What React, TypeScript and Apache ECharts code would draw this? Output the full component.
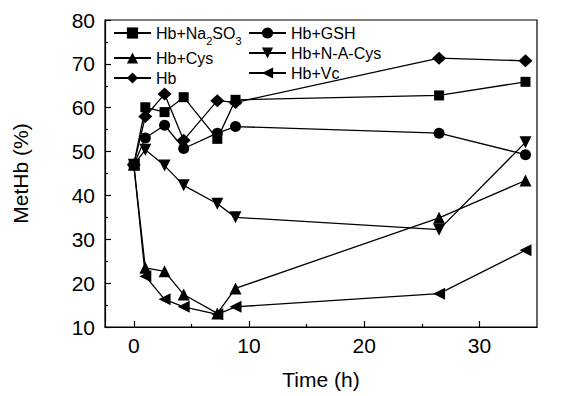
import React, { useEffect, useRef } from "react";
import * as echarts from "echarts";

// Sampling times (h)
const times = [0, 1, 2.67, 4.33, 7.25, 8.83, 26.5, 34];

// MetHb (%) for each treatment
const na2so3 = [47, 60.1, 59.0, 62.4, 52.9, 61.8, 62.8, 65.9];
const gsh = [47, 53.1, 56.0, 50.7, 54.2, 55.7, 54.2, 49.3];
const cys = [47, 23.5, 22.7, 17.4, 13.1, 18.8, 34.9, 43.4];
const nAcCys = [47, 50.4, 46.8, 42.3, 38.1, 35.0, 32.2, 52.1];
const hbOnly = [47, 58.0, 63.1, 52.6, 61.6, 61.2, 71.3, 70.7];
const vc = [47, 21.6, 16.3, 14.6, 12.9, 14.6, 17.6, 27.5];

const xMajorTicks = [0, 10, 20, 30];
const xMinorTicks = [5, 15, 25];

const FONT = "'Liberation Sans', Arial, sans-serif";

// Triangle markers pointing down and left (path symbols so the legend shows them too)
const TRI_DOWN = "path://M0,0L2,0L1,2Z";
const TRI_LEFT = "path://M2,0L2,2L0,1Z";

export default function App() {
  const ref = useRef<HTMLDivElement>(null);

  useEffect(() => {
    if (!ref.current) return;
    const chart = echarts.init(ref.current, null, { renderer: "svg" });

    const pair = (ys: number[]) => times.map((t, i) => [t, ys[i]]);

    const mk = (name: string, ys: number[], symbol: string, size: number | number[]) => ({
      name,
      type: "line",
      data: pair(ys),
      symbol,
      symbolSize: size,
      showAllSymbol: true,
      lineStyle: { color: "#000", width: 1.3 },
      itemStyle: { color: "#000", borderWidth: 0 },
      xAxisIndex: 0,
      yAxisIndex: 0,
      z: 3,
    });

    const legendText = {
      fontFamily: FONT,
      fontSize: 16,
      color: "#000",
      rich: {
        n: { fontFamily: FONT, fontSize: 16, color: "#000", lineHeight: 16 },
        s: {
          fontFamily: FONT,
          fontSize: 11,
          color: "#000",
          lineHeight: 6,
          verticalAlign: "top",
          padding: [10, 0, 0, 0],
        },
      },
    };
    const legendFormatter = (name: string) =>
      name === "Hb+Na2SO3" ? "{n|Hb+Na}{s|2}{n|SO}{s|3}" : "{n|" + name + "}";

    const legendBase = {
      orient: "vertical",
      top: 25,
      itemWidth: 37,
      itemHeight: 14,
      itemGap: 4,
      padding: 0,
      textStyle: legendText,
      formatter: legendFormatter,
      inactiveColor: "#000",
    };

    chart.setOption({
      animation: false,
      backgroundColor: "#fff",
      grid: {
        left: 105,
        right: 33,
        top: 20,
        bottom: 69,
        show: true,
        borderColor: "#000",
        borderWidth: 1.2,
        backgroundColor: "transparent",
      },
      legend: [
        { ...legendBase, left: 113, data: ["Hb+Na2SO3", "Hb+Cys", "Hb"] },
        { ...legendBase, left: 248, data: ["Hb+GSH", "Hb+N-A-Cys", "Hb+Vc"] },
      ],
      xAxis: [
        {
          type: "value",
          min: -2.5,
          max: 35,
          name: "Time (h)",
          nameLocation: "middle",
          nameGap: 42,
          nameTextStyle: { fontFamily: FONT, fontSize: 21, color: "#000" },
          axisLine: { show: true, onZero: false, lineStyle: { color: "#000", width: 1.2 } },
          axisTick: {
            show: true,
            inside: true,
            length: 6,
            customValues: xMajorTicks,
            lineStyle: { color: "#000", width: 1.2 },
          },
          axisLabel: {
            customValues: xMajorTicks,
            margin: 8,
            fontFamily: FONT,
            fontSize: 21,
            color: "#000",
          },
          splitLine: { show: false },
        },
        {
          type: "value",
          min: -2.5,
          max: 35,
          position: "bottom",
          axisLine: { show: false, onZero: false },
          axisTick: {
            show: true,
            inside: true,
            length: 3,
            customValues: xMinorTicks,
            lineStyle: { color: "#000", width: 1.2 },
          },
          axisLabel: { show: false },
          splitLine: { show: false },
        },
      ],
      yAxis: {
        type: "value",
        min: 10,
        max: 80,
        interval: 10,
        name: "MetHb (%)",
        nameLocation: "middle",
        nameGap: 74,
        nameTextStyle: { fontFamily: FONT, fontSize: 21, color: "#000" },
        axisLine: { show: true, onZero: false, lineStyle: { color: "#000", width: 1.2 } },
        axisTick: { show: true, inside: true, length: 6, lineStyle: { color: "#000", width: 1.2 } },
        minorTick: { show: true, splitNumber: 2, length: 3, lineStyle: { color: "#000", width: 1.2 } },
        axisLabel: { margin: 10, fontFamily: FONT, fontSize: 21, color: "#000" },
        splitLine: { show: false },
        minorSplitLine: { show: false },
      },
      series: [
        mk("Hb+Na2SO3", na2so3, "rect", 10),
        mk("Hb+GSH", gsh, "circle", 11),
        mk("Hb+Cys", cys, "triangle", 12),
        mk("Hb+N-A-Cys", nAcCys, TRI_DOWN, 12),
        mk("Hb", hbOnly, "diamond", [14, 13]),
        mk("Hb+Vc", vc, TRI_LEFT, 12),
      ],
    });

    return () => chart.dispose();
  }, []);

  return (
    <div
      ref={ref}
      style={{ position: "absolute", left: 0, top: 0, width: 570, height: 396 }}
    />
  );
}
